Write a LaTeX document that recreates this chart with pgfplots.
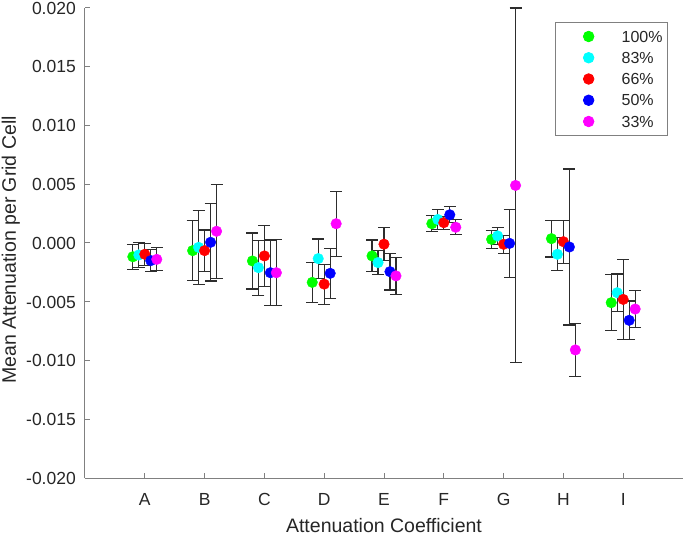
\documentclass[border=0pt]{standalone}
\usepackage{fontspec}
\setmainfont{Liberation Sans}
\usepackage{pgfplots}
\usepackage{pgfplotstable}
\pgfplotsset{compat=1.18}

\definecolor{axgray}{RGB}{128,128,128}
\definecolor{txtgray}{RGB}{38,38,38}
\definecolor{barclr}{RGB}{45,45,45}
\definecolor{cgreen}{RGB}{0,255,0}
\definecolor{ccyan}{RGB}{0,255,255}
\definecolor{cred}{RGB}{255,0,0}
\definecolor{cblue}{RGB}{0,0,255}
\definecolor{cmagenta}{RGB}{255,0,255}

% x = category (A=1 ... I=9) + series offset, y = mean, e = error
\pgfplotstableread{
x   y        e
0.8 -0.00117 0.00106
1.8 -0.00065 0.00255
2.8 -0.00153 0.00238
3.8 -0.00335 0.00168
4.8 -0.00110 0.00135
5.8  0.00164 0.00068
6.8  0.00031 0.00078
7.8  0.00037 0.00156
8.8 -0.00508 0.00238
}\tgreen
\pgfplotstableread{
x   y        e
0.9 -0.00102 0.00105
1.9 -0.00037 0.00315
2.9 -0.00210 0.00234
3.9 -0.00133 0.00167
4.9 -0.00167 0.00100
5.9  0.00200 0.00085
6.9  0.00060 0.00070
7.9 -0.00096 0.00140
8.9 -0.00423 0.00160
}\tcyan
\pgfplotstableread{
x   y        e
1.0 -0.00096 0.00094
2.0 -0.00065 0.00175
3.0 -0.00110 0.00257
4.0 -0.00350 0.00170
5.0 -0.00010 0.00140
6.0  0.00173 0.00055
7.0 -0.00011 0.00077
8.0  0.00011 0.00183
9.0 -0.00480 0.00340
}\tred
\pgfplotstableread{
x   y        e
1.1 -0.00150 0.00095
2.1  0.00006 0.00330
3.1 -0.00253 0.00278
4.1 -0.00258 0.00214
5.1 -0.00244 0.00156
6.1  0.00240 0.00068
7.1 -0.00003 0.00288
8.1 -0.00034 0.00664
9.1 -0.00658 0.00165
}\tblue
\pgfplotstableread{
x   y        e
1.2 -0.00139 0.00098
2.2  0.00100 0.00400
3.2 -0.00253 0.00280
4.2  0.00164 0.00277
5.2 -0.00280 0.00159
6.2  0.00134 0.00064
7.2  0.00490 0.01510
8.2 -0.00910 0.00224
9.2 -0.00562 0.00160
}\tmagenta

\pgfplotsset{
  dot/.style={only marks, mark=*, mark size=5.3bp, color=#1},
  bars/.style={forget plot, only marks, mark=none,
    error bars/.cd, y dir=both, y explicit,
    error bar style={barclr, line width=1.2bp},
    error mark options={barclr, rotate=90, mark size=6bp, line width=1.2bp}},
}

\begin{document}
\begin{tikzpicture}
\useasboundingbox (-85bp,-57bp) rectangle (600bp,478bp);
\begin{axis}[
    at={(0,0)}, anchor=south west,
    scale only axis,
    width=598bp, height=470bp,
    xmin=0, xmax=10,
    ymin=-0.02, ymax=0.02,
    clip=false,
    scaled y ticks=false,
    axis x line*=bottom, axis y line*=left,
    axis line style={axgray, line width=1bp, -},
    tick style={axgray, line width=1bp},
    tick align=inside,
    major tick length=5bp,
    xtick={1,2,3,4,5,6,7,8,9},
    xticklabels={A,B,C,D,E,F,G,H,I},
    ytick={-0.02,-0.015,-0.01,-0.005,0,0.005,0.01,0.015,0.02},
    yticklabels={-0.020,-0.015,-0.010,-0.005,0.000,0.005,0.010,0.015,0.020},
    ticklabel style={font=\fontsize{17.5bp}{20bp}\selectfont, text=txtgray},
    xticklabel style={anchor=base, yshift=-27.5bp},
    yticklabel style={anchor=east, inner sep=0pt, xshift=-9bp,
                      text height=12.5bp, text depth=0pt},
    xlabel={Attenuation Coefficient},
    ylabel={Mean Attenuation per Grid Cell},
    label style={font=\fontsize{19.5bp}{22bp}\selectfont, text=txtgray},
    xlabel style={at={(axis description cs:0.5,-0.115)}, anchor=base,
                  inner sep=0pt, text depth=0pt},
    ylabel style={at={(axis description cs:-0.1154,0.485)}, anchor=base, rotate=0},
    legend image code/.code={
      \path[draw=none, fill=none] (0bp,-5.75bp) rectangle (66bp,5.75bp);
      \draw[#1] plot coordinates {(33bp,0bp)};
    },
    legend style={
      at={(axis description cs:0.975,0.970)}, anchor=north east,
      draw=axgray, line width=0.8bp,
      inner xsep=0pt, inner ysep=8.25bp,
      row sep=9.75bp, column sep=0pt,
      font=\fontsize{16bp}{16bp}\selectfont, text=txtgray,
      nodes={inner sep=0pt, text height=11.5bp, text depth=0pt,
             text width=46bp, align=left},
    },
]
\addplot[bars] table[x=x,y=y,y error=e] {\tgreen};
\addplot[bars] table[x=x,y=y,y error=e] {\tcyan};
\addplot[bars] table[x=x,y=y,y error=e] {\tred};
\addplot[bars] table[x=x,y=y,y error=e] {\tblue};
\addplot[bars] table[x=x,y=y,y error=e] {\tmagenta};

\addplot[dot=cgreen]   table[x=x,y=y] {\tgreen};
\addplot[dot=ccyan]    table[x=x,y=y] {\tcyan};
\addplot[dot=cred]     table[x=x,y=y] {\tred};
\addplot[dot=cblue]    table[x=x,y=y] {\tblue};
\addplot[dot=cmagenta] table[x=x,y=y] {\tmagenta};

\legend{100\%,83\%,66\%,50\%,33\%}
\end{axis}
\end{tikzpicture}
\end{document}
